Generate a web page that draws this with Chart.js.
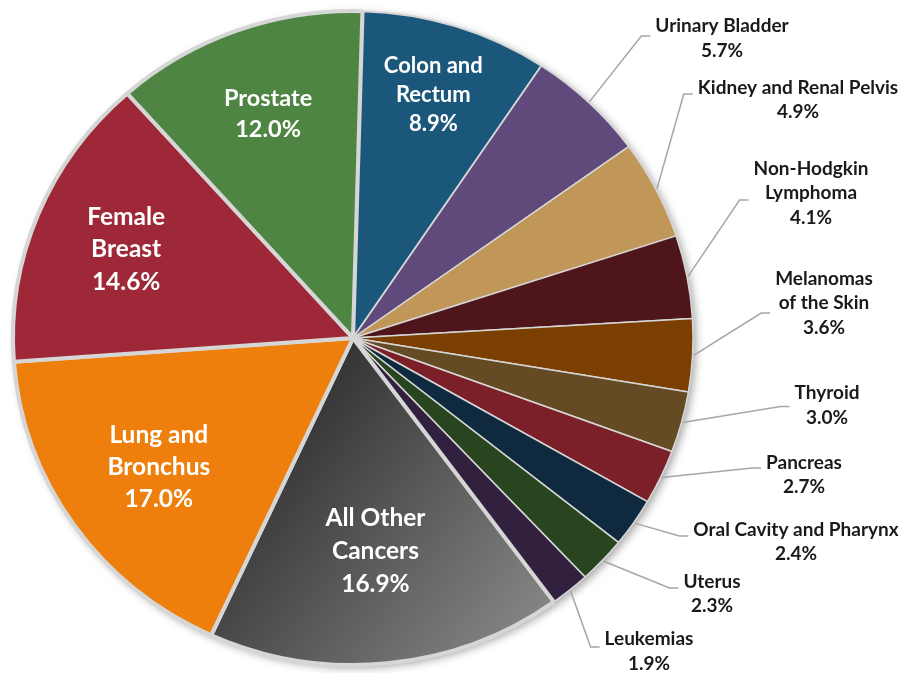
<!DOCTYPE html>
<html>
<head>
<meta charset="utf-8">
<script src="https://cdn.jsdelivr.net/npm/chart.js@4.4.1/dist/chart.umd.min.js"></script>
<style>
  html, body { margin: 0; padding: 0; background: #fff; }
  canvas { display: block; }
</style>
</head>
<body>
<canvas id="pie" width="902" height="673"></canvas>
<script>
// cancer sites, clockwise from 12 o'clock
const sites = [
  ["Colon and", "Rectum"],
  ["Urinary Bladder"],
  ["Kidney and Renal Pelvis"],
  ["Non-Hodgkin", "Lymphoma"],
  ["Melanomas", "of the Skin"],
  ["Thyroid"],
  ["Pancreas"],
  ["Oral Cavity and Pharynx"],
  ["Uterus"],
  ["Leukemias"],
  ["All Other", "Cancers"],
  ["Lung and", "Bronchus"],
  ["Female", "Breast"],
  ["Prostate"],
];
const shares = [8.9, 5.7, 4.9, 4.1, 3.6, 3.0, 2.7, 2.4, 2.3, 1.9, 16.9, 17.0, 14.6, 12.0];

const colors = [
  "#1b577b", "#604a7b", "#c09659", "#4e161b", "#7b3f02", "#654b24", "#7b1f29",
  "#0f2a3e", "#284520", "#31213f", null, "#ef7f0c", "#9e2837", "#4e8542",
];
const borders = [2, 1.5, 1.5, 1.5, 1.5, 1.5, 1.5, 1.5, 1.5, 1.5, 4, 4, 4, 4];

const SX = 1.04; // the original pie is slightly wider than tall

// labels drawn inside the slice: radius fraction, font size, line height
const inside = {
  0: [0.78, 22, 29],
  10: [0.655, 24.5, 33],
  11: [0.695, 24.5, 32],
  12: [0.72, 24.5, 32.5],
  13: [0.73, 23.5, 31],
};
// labels outside: text block centre x, y and leader y offset
const outside = {
  1: [722, 38.5, -2.5],
  2: [798, 100, -6],
  3: [811, 193, 7],
  4: [824, 303, 10],
  5: [827, 405.5, 1],
  6: [804, 475, -7],
  7: [796, 542, -6],
  8: [712, 594, -6],
  9: [649, 651.5, -4.5],
};

const fmt = (v) => v.toFixed(1) + "%";

const ellipse = {
  id: "ellipse",
  beforeDatasetsDraw(chart) {
    const { x, y, outerRadius } = chart.getDatasetMeta(0).data[0];
    const c = chart.ctx;
    c.save();
    c.translate(x, y);
    c.scale(SX, 1);
    c.translate(-x, -y);
    c.save();
    c.shadowColor = "rgba(0,0,0,0.35)";
    c.shadowBlur = 9;
    c.shadowOffsetX = 3;
    c.shadowOffsetY = 3;
    c.beginPath();
    c.arc(x, y, outerRadius, 0, Math.PI * 2);
    c.fillStyle = "#cccccc";
    c.fill();
    c.restore();
  },
  afterDatasetsDraw(chart) {
    chart.ctx.restore();
  },
};

const labels = {
  id: "labels",
  afterDraw(chart) {
    const c = chart.ctx;
    const arcs = chart.getDatasetMeta(0).data;
    c.save();
    c.textAlign = "center";
    c.textBaseline = "middle";
    arcs.forEach((arc, i) => {
      const mid = (arc.startAngle + arc.endAngle) / 2;
      const lines = sites[i].concat(fmt(shares[i]));
      if (inside[i]) {
        const [f, size, lh] = inside[i];
        const px = arc.x + SX * f * arc.outerRadius * Math.cos(mid);
        const py = arc.y + f * arc.outerRadius * Math.sin(mid);
        c.font = "bold " + size + "px Lato, 'Open Sans', sans-serif";
        c.fillStyle = "#ffffff";
        lines.forEach((t, k) => c.fillText(t, px, py + (k - (lines.length - 1) / 2) * lh));
        return;
      }
      const [tx, ty, dy] = outside[i];
      c.font = "bold 19px Lato, 'Open Sans', sans-serif";
      const w = Math.max(...lines.map((t) => c.measureText(t).width));
      const left = tx - w / 2;
      const sx = arc.x + SX * (arc.outerRadius + 1) * Math.cos(mid);
      const sy = arc.y + (arc.outerRadius + 1) * Math.sin(mid);
      const ly = ty + dy;
      c.strokeStyle = "#a6a6a6";
      c.lineWidth = 1.5;
      c.beginPath();
      c.moveTo(sx, sy);
      c.lineTo(left - 14, ly);
      c.lineTo(left - 5, ly);
      c.stroke();
      c.fillStyle = "#1a1a1a";
      lines.forEach((t, k) => c.fillText(t, tx, ty + (k - (lines.length - 1) / 2) * 24.5));
    });
    c.restore();
  },
};

function otherFill(ctx) {
  const chart = ctx.chart;
  const a = chart.chartArea;
  if (!a) return "#555";
  const cx = (a.left + a.right) / 2;
  const cy = (a.top + a.bottom) / 2;
  const g = chart.ctx.createLinearGradient(cx - 90, cy + 80, cx + 200, cy + 300);
  g.addColorStop(0, "#2e2e2e");
  g.addColorStop(1, "#8c8c8c");
  return g;
}

new Chart(document.getElementById("pie"), {
  type: "pie",
  data: {
    labels: sites.map((s) => s.join(" ")),
    datasets: [
      {
        data: shares,
        backgroundColor: (ctx) => (ctx.dataIndex === 10 ? otherFill(ctx) : colors[ctx.dataIndex]),
        borderColor: "#d6d6d6",
        borderWidth: borders,
        radius: 327,
      },
    ],
  },
  options: {
    responsive: false,
    animation: false,
    rotation: 1.6,
    layout: { padding: { left: 20, right: 216, top: 10, bottom: 7 } },
    plugins: {
      legend: { display: false },
      tooltip: { enabled: false },
    },
  },
  plugins: [ellipse, labels],
});
</script>
</body>
</html>
